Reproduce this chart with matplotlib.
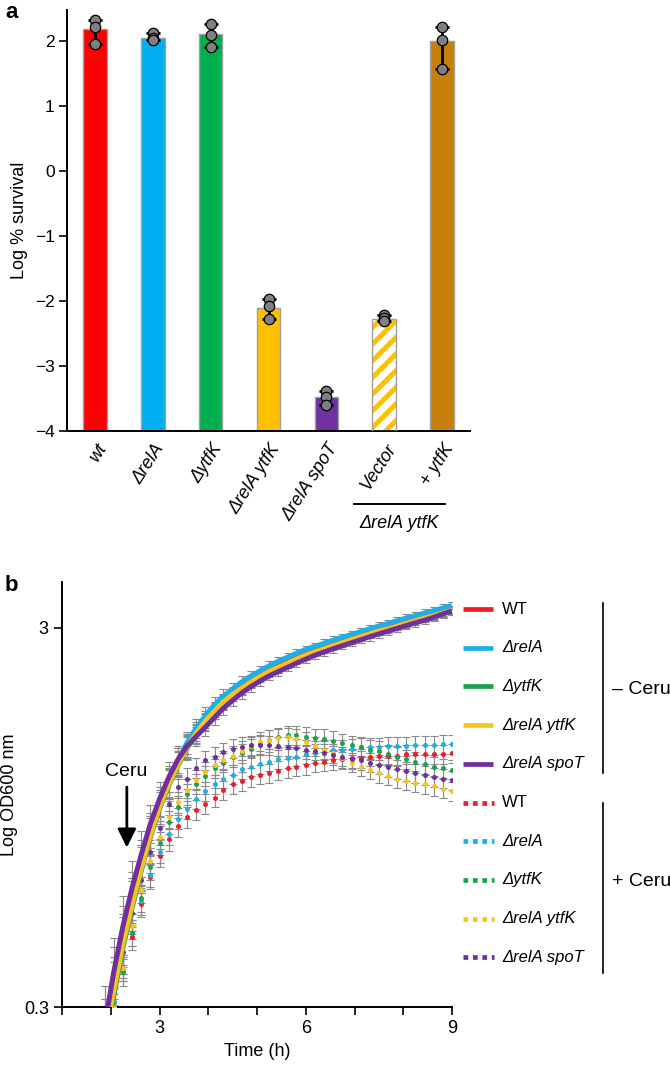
import matplotlib
matplotlib.use('Agg')
import matplotlib.pyplot as plt
import numpy as np
from matplotlib.lines import Line2D
from matplotlib import transforms, ticker

plt.rcParams['font.family'] = ['Liberation Sans', 'DejaVu Sans']
plt.rcParams['hatch.linewidth'] = 3.6

# ---- panel a data ----
strains = ['wt', 'ΔrelA', 'ΔytfK', 'ΔrelA ytfK', 'ΔrelA spoT', 'Vector', '+ ytfK']
survival = [2.18, 2.05, 2.11, -2.10, -3.48, -2.28, 2.00]
replicates = [[2.33, 2.22, 1.95],
              [2.12, 2.05, 2.02],
              [2.26, 2.10, 1.91],
              [-1.97, -2.08, -2.27],
              [-3.38, -3.47, -3.60],
              [-2.21, -2.26, -2.31],
              [2.22, 2.02, 1.57]]
bar_colors = ['#ff0000', '#00b0f0', '#00b050', '#ffc000', '#7030a0', 'white', '#c8800c']

# ---- panel b data ----
time_h = [1.88, 2.06, 2.25, 2.44, 2.63, 2.81, 3.00, 3.19, 3.38, 3.56, 3.75, 3.94, 4.13,
          4.31, 4.50, 4.69, 4.88, 5.06, 5.25, 5.44, 5.63, 5.81, 6.00, 6.19, 6.38, 6.56,
          6.75, 6.94, 7.13, 7.31, 7.50, 7.69, 7.88, 8.06, 8.25, 8.44, 8.63, 8.81, 9.00]

# no cerulenin (solid lines)
wt_ctrl = [0.27, 0.35, 0.46, 0.58, 0.72, 0.87, 1.03, 1.18, 1.33, 1.47, 1.60, 1.72, 1.83,
           1.93, 2.02, 2.10, 2.18, 2.25, 2.32, 2.38, 2.44, 2.50, 2.56, 2.61, 2.66, 2.71,
           2.76, 2.81, 2.86, 2.91, 2.96, 3.00, 3.05, 3.10, 3.15, 3.20, 3.25, 3.30, 3.35]
rela_ctrl = [0.25, 0.33, 0.44, 0.56, 0.70, 0.85, 1.01, 1.17, 1.33, 1.49, 1.63, 1.76, 1.88,
             1.98, 2.07, 2.16, 2.24, 2.31, 2.38, 2.45, 2.51, 2.57, 2.63, 2.68, 2.73, 2.78,
             2.83, 2.88, 2.93, 2.98, 3.03, 3.08, 3.13, 3.18, 3.23, 3.28, 3.33, 3.38, 3.43]
ytfk_ctrl = [0.24, 0.32, 0.43, 0.55, 0.69, 0.84, 1.00, 1.15, 1.30, 1.44, 1.57, 1.69, 1.80,
             1.90, 1.99, 2.07, 2.15, 2.22, 2.29, 2.35, 2.41, 2.47, 2.53, 2.58, 2.63, 2.68,
             2.73, 2.78, 2.83, 2.88, 2.93, 2.97, 3.02, 3.07, 3.12, 3.17, 3.22, 3.27, 3.32]
relaytfk_ctrl = [0.25, 0.33, 0.44, 0.56, 0.70, 0.85, 1.01, 1.16, 1.31, 1.45, 1.58, 1.70, 1.81,
                 1.91, 2.00, 2.08, 2.16, 2.23, 2.30, 2.36, 2.42, 2.48, 2.54, 2.59, 2.64, 2.69,
                 2.74, 2.79, 2.84, 2.89, 2.94, 2.98, 3.03, 3.08, 3.13, 3.18, 3.23, 3.28, 3.33]
relaspot_ctrl = [0.27, 0.37, 0.49, 0.62, 0.76, 0.91, 1.06, 1.21, 1.35, 1.46, 1.55, 1.64, 1.74,
                 1.84, 1.93, 2.02, 2.10, 2.17, 2.24, 2.30, 2.36, 2.42, 2.48, 2.54, 2.59, 2.64,
                 2.69, 2.74, 2.79, 2.84, 2.89, 2.94, 2.99, 3.04, 3.09, 3.14, 3.20, 3.26, 3.32]

# with cerulenin (dotted)
wt_ceru = [0.25, 0.31, 0.38, 0.46, 0.56, 0.66, 0.75, 0.83, 0.90, 0.95, 0.99, 1.03, 1.07,
           1.12, 1.16, 1.18, 1.21, 1.23, 1.24, 1.26, 1.28, 1.29, 1.30, 1.32, 1.33, 1.34,
           1.35, 1.36, 1.36, 1.37, 1.38, 1.38, 1.38, 1.39, 1.39, 1.39, 1.39, 1.39, 1.40]
rela_ceru = [0.25, 0.31, 0.38, 0.47, 0.57, 0.67, 0.77, 0.86, 0.94, 1.00, 1.06, 1.11, 1.16,
             1.20, 1.23, 1.27, 1.29, 1.31, 1.33, 1.35, 1.36, 1.37, 1.39, 1.40, 1.42, 1.43,
             1.43, 1.44, 1.45, 1.45, 1.45, 1.46, 1.46, 1.46, 1.47, 1.47, 1.47, 1.48, 1.48]
ytfk_ceru = [0.24, 0.29, 0.37, 0.47, 0.58, 0.70, 0.81, 0.92, 1.01, 1.09, 1.16, 1.22, 1.28,
             1.32, 1.365, 1.40, 1.44, 1.48, 1.52, 1.545, 1.56, 1.56, 1.55, 1.535, 1.53, 1.51,
             1.49, 1.47, 1.455, 1.43, 1.42, 1.39, 1.37, 1.35, 1.33, 1.31, 1.29, 1.28, 1.265]
relaytfk_ceru = [0.24, 0.30, 0.38, 0.49, 0.61, 0.73, 0.84, 0.95, 1.04, 1.12, 1.19, 1.25, 1.30,
                 1.34, 1.38, 1.42, 1.46, 1.50, 1.52, 1.535, 1.545, 1.53, 1.50, 1.46, 1.43, 1.40,
                 1.36, 1.32, 1.29, 1.265, 1.24, 1.22, 1.20, 1.185, 1.17, 1.16, 1.145, 1.13, 1.11]
relaspot_ceru = [0.26, 0.33, 0.42, 0.53, 0.65, 0.77, 0.89, 1.03, 1.14, 1.20, 1.28, 1.34, 1.37,
                 1.41, 1.44, 1.455, 1.47, 1.47, 1.47, 1.46, 1.455, 1.445, 1.43, 1.42, 1.40, 1.385,
                 1.37, 1.35, 1.34, 1.32, 1.305, 1.285, 1.27, 1.255, 1.24, 1.225, 1.21, 1.20, 1.19]

# error half widths (log10 units)
err_ctrl = [0.10, 0.09, 0.08, 0.07, 0.06, 0.05, 0.045, 0.04, 0.035, 0.03, 0.025, 0.022, 0.02,
            0.018, 0.016, 0.015, 0.014, 0.013, 0.012, 0.012, 0.011, 0.011, 0.010, 0.010, 0.010, 0.010,
            0.010, 0.010, 0.010, 0.010, 0.010, 0.010, 0.010, 0.010, 0.010, 0.010, 0.010, 0.010, 0.010]
err_ceru = [0.035, 0.035, 0.035, 0.035, 0.035, 0.032, 0.03, 0.03, 0.028, 0.028, 0.026, 0.026, 0.025,
            0.025, 0.025, 0.025, 0.025, 0.025, 0.025, 0.025, 0.025, 0.025, 0.025, 0.025, 0.025, 0.025,
            0.025, 0.025, 0.025, 0.025, 0.025, 0.025, 0.025, 0.025, 0.025, 0.025, 0.025, 0.025, 0.025]

legend_labels = ['WT', 'ΔrelA', 'ΔytfK', 'ΔrelA ytfK', 'ΔrelA spoT']
line_colors = ['#ee1c25', '#1ab0ea', '#19a34c', '#f9c21c', '#6f2f9f']

fig = plt.figure(figsize=(6.7, 10.71), dpi=100)

# ================= panel a =================
ax1 = fig.add_axes([67 / 670, 1 - 431 / 1071, 403 / 670, 421 / 1071])
x = np.arange(len(strains))
for i in range(len(strains)):
    if i == 5:
        ax1.bar(x[i], survival[i] + 4, bottom=-4, width=0.41, color='white',
                edgecolor='#ffc000', hatch='//', lw=0, zorder=2)
        ax1.bar(x[i], survival[i] + 4, bottom=-4, width=0.41, fill=False,
                edgecolor='#a0a0a0', lw=1, zorder=3)
    else:
        ax1.bar(x[i], survival[i] + 4, bottom=-4, width=0.41, color=bar_colors[i],
                edgecolor='#a0a0a0', lw=1, zorder=2)
    r = replicates[i]
    ax1.errorbar(x[i], survival[i], yerr=[[survival[i] - min(r)], [max(r) - survival[i]]],
                 fmt='none', ecolor='k', elinewidth=2, capsize=5, capthick=2, zorder=4)
    ax1.plot([x[i]] * len(r), r, 'o', mfc='#808080', mec='k', ms=7.5, mew=0.9, zorder=5)

ax1.set_xlim(-0.48, 6.48)
ax1.set_ylim(-4, 2.48)
ax1.set_yticks([-4, -3, -2, -1, 0, 1, 2])
ax1.set_yticklabels(['\u22124', '\u22123', '\u22122', '\u22121', '0', '1', '2'])
ax1.tick_params(axis='y', length=6, width=1.2, labelsize=12.5, pad=3)
ax1.set_xticks(x)
ax1.set_xticklabels(strains, rotation=57, ha='right', va='top', rotation_mode='anchor',
                    style='italic', fontsize=13)
ax1.tick_params(axis='x', length=0, pad=7)
offset = transforms.ScaledTranslation(1 / 100, 0, fig.dpi_scale_trans)
for lab in ax1.get_xticklabels():
    lab.set_transform(lab.get_transform() + offset)
for s in ['top', 'right']:
    ax1.spines[s].set_visible(False)
for s in ['left', 'bottom']:
    ax1.spines[s].set_linewidth(1.4)
ax1.set_ylabel('Log % survival', fontsize=13, labelpad=5)

trans = transforms.blended_transform_factory(ax1.transData, ax1.transAxes)
ax1.add_line(Line2D([4.47, 6.05], [-0.173, -0.173], transform=trans, color='k', lw=1.4,
                    clip_on=False))
ax1.text(5.26, -0.2, 'ΔrelA ytfK', transform=trans, ha='center', va='top',
         style='italic', fontsize=13)

fig.text(5 / 670, 1 - 2 / 1071, 'a', fontsize=16, fontweight='bold', va='top')
fig.text(5 / 670, 1 - 575 / 1071, 'b', fontsize=16, fontweight='bold', va='top')

# ================= panel b =================
ax2 = fig.add_axes([62 / 670, 1 - 1007 / 1071, 390 / 670, 425 / 1071])
ax2.set_yscale('log')
t = np.array(time_h)

ctrl = [wt_ctrl, rela_ctrl, ytfk_ctrl, relaytfk_ctrl, relaspot_ctrl]
ceru = [wt_ceru, rela_ceru, ytfk_ceru, relaytfk_ceru, relaspot_ceru]

for vals in ceru:
    y = np.array(vals)
    e = np.array(err_ceru)
    ax2.errorbar(t, y, yerr=[y - y / 10 ** e, y * 10 ** e - y], fmt='none',
                 ecolor='#8a8a8a', elinewidth=0.8, capsize=3, capthick=0.8, zorder=1)
for vals in ctrl:
    y = np.array(vals)
    e = np.array(err_ctrl)
    ax2.errorbar(t, y, yerr=[y - y / 10 ** e, y * 10 ** e - y], fmt='none',
                 ecolor='#8a8a8a', elinewidth=0.8, capsize=3, capthick=0.8, zorder=1)

for vals, c in zip(ceru, line_colors):
    ax2.plot(t, vals, 'o', color=c, ms=3.6, mec='none', zorder=3)
for vals, c in zip(ctrl, line_colors):
    ax2.plot(t, vals, '-', color=c, lw=3.6, zorder=4, solid_capstyle='butt')

ax2.set_xlim(1, 9)
ax2.set_ylim(0.3, 3.96)
ax2.set_yticks([0.3, 3])
ax2.set_yticklabels(['0.3', '3'])
ax2.yaxis.set_minor_locator(ticker.NullLocator())
ax2.set_xticks(range(1, 10))
ax2.set_xticklabels(['', '', '3', '', '', '6', '', '', '9'])
ax2.tick_params(length=6, width=1.2, labelsize=13)
for s in ['top', 'right']:
    ax2.spines[s].set_visible(False)
for s in ['left', 'bottom']:
    ax2.spines[s].set_linewidth(1.4)
ax2.set_xlabel('Time (h)', fontsize=13, labelpad=4)
ax2.set_ylabel('Log OD600 nm', fontsize=13, labelpad=4)

ax2.annotate('', xy=(2.33, 0.79), xytext=(2.33, 1.14),
             arrowprops=dict(arrowstyle='-|>', lw=2, color='k', mutation_scale=28,
                             shrinkA=0, shrinkB=0))
ax2.text(2.32, 1.25, 'Ceru', ha='center', va='center', fontsize=14)

# legend (manual, right of panel b)
for i in range(10):
    yy = 1 - (609 + i * 38.7) / 1071
    c = line_colors[i % 5]
    if i < 5:
        fig.add_artist(Line2D([463 / 670, 493 / 670], [yy, yy], color=c, lw=3.4,
                              solid_capstyle='butt'))
    else:
        fig.add_artist(Line2D([463 / 670, 494 / 670], [yy, yy], color=c, lw=3.4,
                              linestyle=(0, (1, 1)), dash_capstyle='butt'))
    lab = legend_labels[i % 5]
    fig.text(502 / 670, yy, lab, fontsize=12, va='center', ha='left',
             style='normal' if lab == 'WT' else 'italic')

fig.add_artist(Line2D([603 / 670, 603 / 670], [1 - 603 / 1071, 1 - 773 / 1071], color='k', lw=1.2))
fig.add_artist(Line2D([603 / 670, 603 / 670], [1 - 803 / 1071, 1 - 973 / 1071], color='k', lw=1.2))
fig.text(612 / 670, 1 - 690 / 1071, '\u2013 Ceru', fontsize=14, va='center', ha='left')
fig.text(612 / 670, 1 - 882 / 1071, '+ Ceru', fontsize=14, va='center', ha='left')

fig.savefig('out.png', dpi=100)
